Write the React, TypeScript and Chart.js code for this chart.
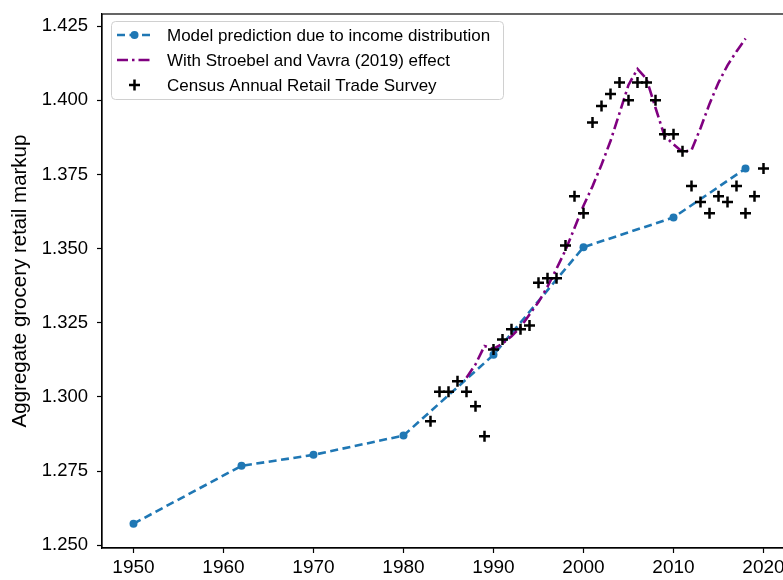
import { useEffect, useRef } from "react";
import { Chart, registerables } from "chart.js";

Chart.register(...registerables);

// Model prediction driven by the income distribution
const modelYears = [1950, 1962, 1970, 1980, 1990, 2000, 2010, 2018];
const modelMarkup = [1.2573, 1.2768, 1.2805, 1.287, 1.3142, 1.3505, 1.3605, 1.377];

// Model including the Stroebel and Vavra (2019) house-price effect
const svYears = [
  1987, 1988, 1989, 1990, 1991, 1992, 1993, 1994, 1995, 1996, 1997, 1998, 1999, 2000, 2001, 2002,
  2003, 2004, 2005, 2006, 2007, 2008, 2009, 2010, 2011, 2012, 2013, 2014, 2015, 2016, 2017, 2018,
];
const svMarkup = [
  1.3065, 1.311, 1.3172, 1.3162, 1.318, 1.3205, 1.3235, 1.3278, 1.332, 1.3372, 1.3432, 1.3495,
  1.357, 1.3645, 1.371, 1.3783, 1.3863, 1.3957, 1.4052, 1.4106, 1.4072, 1.3975, 1.388, 1.3852,
  1.3826, 1.3832, 1.3906, 1.3988, 1.406, 1.4118, 1.4165, 1.4208,
];

// Census Annual Retail Trade Survey observations
const censusYears = [
  1983, 1984, 1985, 1986, 1987, 1988, 1989, 1990, 1991, 1992, 1993, 1994, 1995, 1996, 1997, 1998,
  1999, 2000, 2001, 2002, 2003, 2004, 2005, 2006, 2007, 2008, 2009, 2010, 2011, 2012, 2013, 2014,
  2015, 2016, 2017, 2018, 2019, 2020,
];
const censusMarkup = [
  1.2918, 1.3018, 1.3018, 1.3053, 1.3018, 1.2969, 1.2868, 1.316, 1.3194, 1.3228, 1.3228, 1.3241,
  1.3385, 1.34, 1.34, 1.3511, 1.3677, 1.3619, 1.3925, 1.3981, 1.4021, 1.406, 1.4, 1.406, 1.406,
  1.4, 1.3886, 1.3886, 1.3828, 1.3711, 1.3657, 1.3619, 1.3677, 1.3657, 1.3711, 1.3619, 1.3677,
  1.377,
];

const xTicks = [1950, 1960, 1970, 1980, 1990, 2000, 2010, 2020];
const yTicks = [1.25, 1.275, 1.3, 1.325, 1.35, 1.375, 1.4, 1.425];

const seriesLabels = [
  "Model prediction due to income distribution",
  "With Stroebel and Vavra (2019) effect",
  "Census Annual Retail Trade Survey",
];
const yTitle = "Aggregate grocery retail markup";

const FONT = '"Liberation Sans", Arial, Helvetica, sans-serif';
const BLUE = "#1f77b4";
const PURPLE = "#800080";
const LINE_W = 2.6;
const BLUE_DASH = [8, 4.5];
const PURPLE_DASH = [11, 4, 2.5, 4];
const CANVAS_W = 820;
const CANVAS_H = 580;

const toPoints = (xs: number[], ys: number[]) => xs.map((x, i) => ({ x, y: ys[i] }));

function drawCross(ctx: CanvasRenderingContext2D, x: number, y: number, r: number) {
  ctx.beginPath();
  ctx.moveTo(x - r, y);
  ctx.lineTo(x + r, y);
  ctx.moveTo(x, y - r);
  ctx.lineTo(x, y + r);
  ctx.stroke();
}

// Axes frame plus a boxed legend in the upper-left corner of the plot area
const frameAndLegend = {
  id: "frameAndLegend",
  afterDraw(chart: Chart) {
    const { ctx, chartArea: a } = chart;
    ctx.save();
    ctx.setLineDash([]);
    ctx.strokeStyle = "#000";
    ctx.lineWidth = 1.2;
    ctx.strokeRect(a.left, a.top, a.right - a.left, a.bottom - a.top);

    const bx = a.left + 9;
    const by = a.top + 7;
    const bw = 392;
    const bh = 78;
    ctx.beginPath();
    ctx.roundRect(bx + 0.5, by + 0.5, bw, bh, 4);
    ctx.fillStyle = "rgba(255,255,255,0.85)";
    ctx.fill();
    ctx.strokeStyle = "#d0d0d0";
    ctx.lineWidth = 1;
    ctx.stroke();

    const x0 = bx + 6;
    const x1 = bx + 41;
    const xm = (x0 + x1) / 2;
    const rows = [by + 14, by + 39, by + 64];
    const ds = chart.data.datasets;

    // row 1: dashed blue with dot marker
    ctx.strokeStyle = BLUE;
    ctx.lineWidth = LINE_W;
    ctx.setLineDash(BLUE_DASH);
    ctx.beginPath();
    ctx.moveTo(x0, rows[0]);
    ctx.lineTo(x1, rows[0]);
    ctx.stroke();
    ctx.setLineDash([]);
    ctx.fillStyle = BLUE;
    ctx.beginPath();
    ctx.arc(xm, rows[0], 4, 0, Math.PI * 2);
    ctx.fill();

    // row 2: purple dash-dot
    ctx.strokeStyle = PURPLE;
    ctx.setLineDash(PURPLE_DASH);
    ctx.beginPath();
    ctx.moveTo(x0, rows[1]);
    ctx.lineTo(x1, rows[1]);
    ctx.stroke();
    ctx.setLineDash([]);

    // row 3: black plus marker
    ctx.strokeStyle = "#000";
    ctx.lineWidth = 2.5;
    drawCross(ctx, xm, rows[2], 5.5);

    ctx.fillStyle = "#000";
    ctx.font = `17px ${FONT}`;
    ctx.textBaseline = "middle";
    ctx.textAlign = "left";
    rows.forEach((ry, i) => {
      ctx.fillText(String(ds[i].label), bx + 56, ry + 1);
    });
    ctx.restore();
  },
};

export default function App() {
  const canvasRef = useRef<HTMLCanvasElement | null>(null);

  useEffect(() => {
    const canvas = canvasRef.current;
    if (!canvas) return;

    const axisGrid = {
      drawOnChartArea: false,
      drawTicks: true,
      tickLength: 5,
      tickWidth: 1.2,
      tickColor: "#000",
    };

    const chart = new Chart(canvas, {
      type: "scatter",
      data: {
        datasets: [
          {
            label: seriesLabels[0],
            data: toPoints(modelYears, modelMarkup),
            showLine: true,
            borderColor: BLUE,
            backgroundColor: BLUE,
            borderWidth: LINE_W,
            borderDash: BLUE_DASH,
            pointRadius: 4,
            pointBorderWidth: 0,
            pointBackgroundColor: BLUE,
            order: 2,
          },
          {
            label: seriesLabels[1],
            data: toPoints(svYears, svMarkup),
            showLine: true,
            borderColor: PURPLE,
            backgroundColor: PURPLE,
            borderWidth: LINE_W,
            borderDash: PURPLE_DASH,
            pointRadius: 0,
            order: 1,
          },
          {
            label: seriesLabels[2],
            data: toPoints(censusYears, censusMarkup),
            showLine: false,
            pointStyle: "cross",
            pointRadius: 5.5,
            borderColor: "#000",
            backgroundColor: "#000",
            pointBorderWidth: 2.5,
            borderWidth: 2.5,
            order: 0,
          },
        ],
      },
      options: {
        responsive: false,
        animation: false,
        devicePixelRatio: 1,
        layout: { padding: { top: 14, right: CANVAS_W - 795, left: 0, bottom: 0 } },
        plugins: {
          legend: { display: false },
          tooltip: { enabled: false },
        },
        scales: {
          x: {
            type: "linear",
            min: 1946.5,
            max: 2023.5,
            afterBuildTicks: (s: any) => {
              s.ticks = xTicks.map((v) => ({ value: v }));
            },
            afterFit: (s: any) => {
              s.height = CANVAS_H - 548;
              s.paddingLeft = 0;
              s.paddingRight = 0;
            },
            ticks: {
              autoSkip: false,
              maxRotation: 0,
              padding: 3,
              color: "#000",
              font: { family: FONT, size: 19 },
              callback: (v: any) => String(v),
            },
            grid: axisGrid,
            border: { color: "#000", width: 1.2 },
          },
          y: {
            type: "linear",
            min: 1.2491,
            max: 1.4291,
            afterBuildTicks: (s: any) => {
              s.ticks = yTicks.map((v) => ({ value: v }));
            },
            afterFit: (s: any) => {
              s.width = 102;
              s.paddingTop = 0;
              s.paddingBottom = 0;
            },
            ticks: {
              autoSkip: false,
              padding: 9,
              color: "#000",
              font: { family: FONT, size: 18.5 },
              callback: (v: any) => Number(v).toFixed(3),
            },
            grid: axisGrid,
            border: { color: "#000", width: 1.2 },
            title: {
              display: true,
              text: yTitle,
              color: "#000",
              font: { family: FONT, size: 20.5 },
              padding: { top: 8, bottom: 0 },
            },
          },
        },
      },
      plugins: [frameAndLegend],
    });

    return () => chart.destroy();
  }, []);

  return (
    <div
      style={{
        position: "fixed",
        left: 0,
        top: 0,
        width: 783,
        height: 580,
        overflow: "hidden",
        background: "#fff",
      }}
    >
      <canvas
        ref={canvasRef}
        width={CANVAS_W}
        height={CANVAS_H}
        style={{ display: "block", width: CANVAS_W, height: CANVAS_H }}
      />
    </div>
  );
}
